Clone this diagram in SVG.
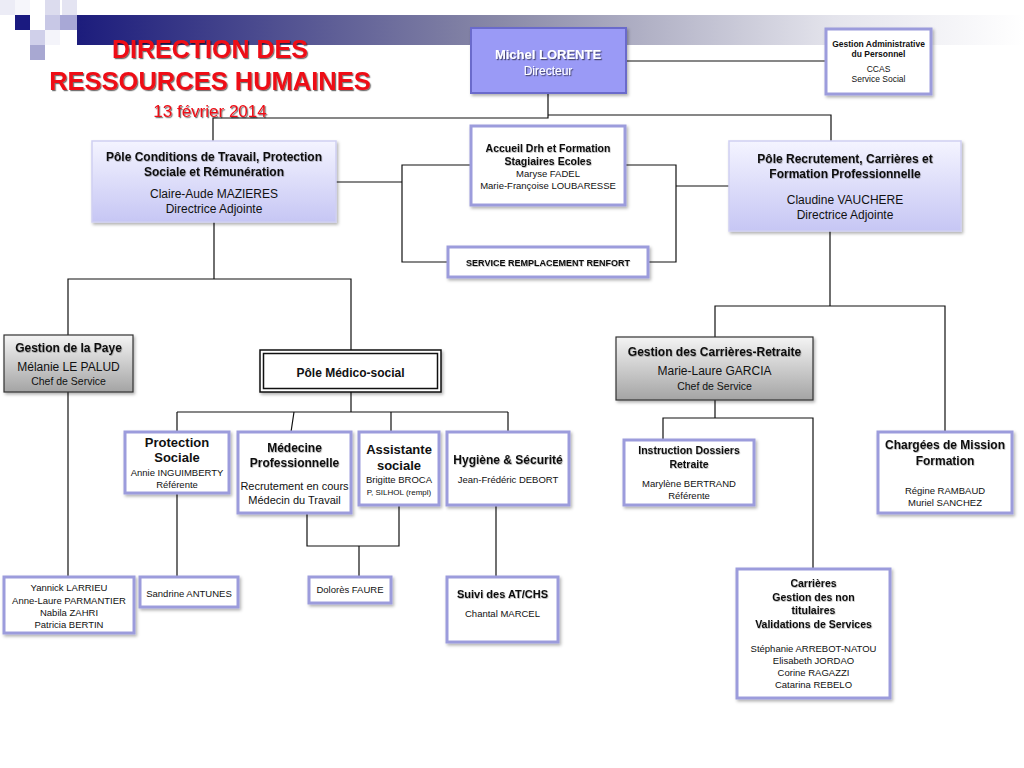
<svg xmlns="http://www.w3.org/2000/svg" width="1024" height="768" viewBox="0 0 1024 768">
<defs>
<linearGradient id="bar" x1="0" y1="0" x2="1" y2="0">
<stop offset="0" stop-color="#1c1c7c"/>
<stop offset="0.45" stop-color="#8a8aa8"/>
<stop offset="0.8" stop-color="#e4e4ec"/>
<stop offset="1" stop-color="#ffffff"/>
</linearGradient>
<linearGradient id="lav" x1="0" y1="0" x2="0" y2="1">
<stop offset="0" stop-color="#f4f4ff"/>
<stop offset="1" stop-color="#c6c6f4"/>
</linearGradient>
<linearGradient id="gray" x1="0" y1="0" x2="0" y2="1">
<stop offset="0" stop-color="#f4f4f4"/>
<stop offset="1" stop-color="#a4a4a4"/>
</linearGradient>
<filter id="sh" x="-10%" y="-10%" width="130%" height="140%">
<feDropShadow dx="1.5" dy="2" stdDeviation="1.5" flood-color="#000" flood-opacity="0.3"/>
</filter>
<filter id="tsh" x="-5%" y="-20%" width="110%" height="150%">
<feDropShadow dx="1.2" dy="1.2" stdDeviation="0.6" flood-color="#000" flood-opacity="0.55"/>
</filter>
<filter id="ssh" x="-5%" y="-20%" width="110%" height="150%">
<feDropShadow dx="0.6" dy="0.8" stdDeviation="0.5" flood-color="#000" flood-opacity="0.3"/>
</filter>
</defs>
<style>
text{font-family:"Liberation Sans",Arial,sans-serif;text-anchor:middle;fill:#111}
.b{font-weight:bold}
.box{fill:#fff;stroke:#9c9cdc;stroke-width:3}
.pole{fill:url(#lav);stroke:#cfcff2;stroke-width:1.5}
.grey{fill:url(#gray);stroke:#333;stroke-width:1.2}
.ln{fill:none;stroke:#111;stroke-width:1.2}
.title{fill:#ee1118;font-weight:bold}
</style>
<rect width="1024" height="768" fill="#fff"/>
<g id="header">
<rect x="77" y="15" width="947" height="30" fill="url(#bar)"/>
<rect x="0" y="0" width="15" height="15" fill="#ececf6"/>
<rect x="15" y="0" width="15" height="15" fill="#f6f6fb"/>
<rect x="45" y="0" width="15" height="15" fill="#dcdcee"/>
<rect x="62" y="0" width="15" height="15" fill="#e4e4f2"/>
<rect x="15" y="15" width="15" height="15" fill="#1a1a80"/>
<rect x="30" y="15" width="15" height="15" fill="#ffffff"/>
<rect x="45" y="15" width="15" height="15" fill="#c8c8e6"/>
<rect x="60" y="15" width="17" height="15" fill="#a8a8d6"/>
<rect x="30" y="30" width="15" height="15" fill="#d0d0ea"/>
<rect x="45" y="30" width="15" height="15" fill="#f4f4fa"/>
<rect x="30" y="45" width="15" height="15" fill="#a8a8d2"/>
<g filter="url(#tsh)">
<text class="title" x="210" y="58" font-size="25">DIRECTION DES</text>
<text class="title" x="210" y="90" font-size="25.5">RESSOURCES HUMAINES</text>
<text x="210" y="117" font-size="17" style="fill:#ee1118">13 février 2014</text>
</g>
</g>
<g id="connectors">
<path class="ln" d="M626 61H826"/>
<path class="ln" d="M548 93V118H213V141"/>
<path class="ln" d="M548 115H831V141"/>
<path class="ln" d="M336 182H402M471 165H402V262H448"/>
<path class="ln" d="M625 165H676V262H648M676 186H729"/>
<path class="ln" d="M214 222V279H68V335M214 279H351V350"/>
<path class="ln" d="M68 392V577"/>
<path class="ln" d="M351 392V412M177 412H508M177 412V432M294 412L291 432M391 412V432M508 412V432"/>
<path class="ln" d="M177 493V577"/>
<path class="ln" d="M307 513V546H399V505M359 546V577"/>
<path class="ln" d="M496 505V577"/>
<path class="ln" d="M830 231V306H715V337M830 306H945V432"/>
<path class="ln" d="M715 400V418H663V440M715 418H813V569"/>
</g>
<g id="directeur">
<rect x="471" y="28" width="155" height="65" fill="#9a9af6" stroke="#6a6acb" stroke-width="2" filter="url(#sh)"/>
<g filter="url(#tsh)">
<text x="548" y="59" font-size="13" class="b" style="fill:#fff">Michel LORENTE</text>
<text x="548" y="75" font-size="12" style="fill:#fff">Directeur</text>
</g>
</g>
<g id="gestion-admin">
<rect class="box" x="826" y="29" width="105" height="65" filter="url(#sh)"/>
<text class="b" x="878.5" y="47" font-size="8.5">Gestion Administrative</text>
<text class="b" x="878.5" y="57" font-size="8.5">du Personnel</text>
<text x="878.5" y="72" font-size="8.5">CCAS</text>
<text x="878.5" y="82" font-size="8.5">Service Social</text>
</g>
<g id="accueil">
<rect class="box" x="471" y="126" width="154" height="79" filter="url(#sh)"/>
<g filter="url(#ssh)">
<text class="b" x="548" y="152" font-size="10.5">Accueil Drh et Formation</text>
<text class="b" x="548" y="165" font-size="10.5">Stagiaires Ecoles</text>
</g>
<text x="548" y="177" font-size="9.5">Maryse FADEL</text>
<text x="548" y="189" font-size="9.5">Marie-Françoise LOUBARESSE</text>
</g>
<g id="service-remplacement">
<rect class="box" x="448" y="247" width="200" height="30" filter="url(#sh)"/>
<text class="b" x="548" y="266" font-size="9" filter="url(#ssh)">SERVICE REMPLACEMENT RENFORT</text>
</g>
<g id="pole-conditions">
<rect class="pole" x="92" y="141" width="244" height="81" filter="url(#sh)"/>
<g filter="url(#ssh)">
<text class="b" x="214" y="161" font-size="12">Pôle Conditions de Travail, Protection</text>
<text class="b" x="214" y="176" font-size="12">Sociale et Rémunération</text>
</g>
<text x="214" y="198" font-size="12">Claire-Aude MAZIERES</text>
<text x="214" y="213" font-size="12">Directrice Adjointe</text>
</g>
<g id="pole-recrutement">
<rect class="pole" x="729" y="141" width="232" height="90" filter="url(#sh)"/>
<g filter="url(#ssh)">
<text class="b" x="845" y="163" font-size="12">Pôle Recrutement, Carrières et</text>
<text class="b" x="845" y="178" font-size="12">Formation Professionnelle</text>
</g>
<text x="845" y="204" font-size="12">Claudine VAUCHERE</text>
<text x="845" y="219" font-size="12">Directrice Adjointe</text>
</g>
<g id="gestion-paye">
<rect class="grey" x="4" y="335" width="129" height="57" filter="url(#sh)"/>
<text class="b" x="68.5" y="352" font-size="12" filter="url(#ssh)">Gestion de la Paye</text>
<text x="68.5" y="371" font-size="12">Mélanie LE PALUD</text>
<text x="68.5" y="385" font-size="10.5">Chef de Service</text>
</g>
<g id="pole-medico-social">
<rect x="260" y="350" width="181" height="42" fill="#fff" stroke="#111" stroke-width="1.5" filter="url(#sh)"/>
<rect x="263.5" y="353.5" width="174" height="35" fill="none" stroke="#111" stroke-width="1.5"/>
<text class="b" x="350.5" y="377" font-size="12">Pôle Médico-social</text>
</g>
<g id="gestion-carrieres-retraite">
<rect class="grey" x="616" y="337" width="197" height="63" filter="url(#sh)"/>
<text class="b" x="714.5" y="356" font-size="12" filter="url(#ssh)">Gestion des Carrières-Retraite</text>
<text x="714.5" y="375" font-size="12">Marie-Laure GARCIA</text>
<text x="714.5" y="390" font-size="10.5">Chef de Service</text>
</g>
<g id="protection-sociale">
<rect class="box" x="125" y="432" width="104" height="61" filter="url(#sh)"/>
<text class="b" x="177" y="447" font-size="13">Protection</text>
<text class="b" x="177" y="462" font-size="13">Sociale</text>
<text x="177" y="476" font-size="9.5">Annie INGUIMBERTY</text>
<text x="177" y="488" font-size="9.5">Référente</text>
</g>
<g id="medecine">
<rect class="box" x="238" y="432" width="113" height="81" filter="url(#sh)"/>
<g filter="url(#ssh)">
<text class="b" x="294.5" y="452" font-size="12">Médecine</text>
<text class="b" x="294.5" y="467" font-size="12">Professionnelle</text>
</g>
<text x="294.5" y="490" font-size="11">Recrutement en cours</text>
<text x="294.5" y="504" font-size="11">Médecin du Travail</text>
</g>
<g id="assistante-sociale">
<rect class="box" x="359" y="432" width="80" height="73" filter="url(#sh)"/>
<text class="b" x="399" y="454" font-size="13">Assistante</text>
<text class="b" x="399" y="470" font-size="13">sociale</text>
<text x="399" y="483" font-size="9.5">Brigitte BROCA</text>
<text x="399" y="495" font-size="8">P, SILHOL (rempl)</text>
</g>
<g id="hygiene-securite">
<rect class="box" x="447" y="432" width="122" height="73" filter="url(#sh)"/>
<text class="b" x="508" y="464" font-size="12" filter="url(#ssh)">Hygiène &amp; Sécurité</text>
<text x="508" y="483" font-size="9.5">Jean-Frédéric DEBORT</text>
</g>
<g id="instruction-dossiers">
<rect class="box" x="624" y="440" width="130" height="65" filter="url(#sh)"/>
<g filter="url(#ssh)">
<text class="b" x="689" y="454" font-size="10.5">Instruction Dossiers</text>
<text class="b" x="689" y="468" font-size="10.5">Retraite</text>
</g>
<text x="689" y="487" font-size="9.5">Marylène BERTRAND</text>
<text x="689" y="499" font-size="9.5">Référente</text>
</g>
<g id="chargees-mission">
<rect class="box" x="878" y="432" width="134" height="81" filter="url(#sh)"/>
<g filter="url(#ssh)">
<text class="b" x="945" y="449" font-size="12">Chargées de Mission</text>
<text class="b" x="945" y="465" font-size="12">Formation</text>
</g>
<text x="945" y="494" font-size="9.5">Régine RAMBAUD</text>
<text x="945" y="506" font-size="9.5">Muriel SANCHEZ</text>
</g>
<g id="equipe-paye">
<rect class="box" x="4" y="577" width="130" height="56" filter="url(#sh)"/>
<text x="69" y="591" font-size="9.5">Yannick LARRIEU</text>
<text x="69" y="604" font-size="9.5">Anne-Laure PARMANTIER</text>
<text x="69" y="616" font-size="9.5">Nabila ZAHRI</text>
<text x="69" y="628" font-size="9.5">Patricia BERTIN</text>
</g>
<g id="sandrine">
<rect class="box" x="140" y="577" width="98" height="30" filter="url(#sh)"/>
<text x="189" y="597" font-size="9.5">Sandrine ANTUNES</text>
</g>
<g id="dolores">
<rect class="box" x="309" y="577" width="82" height="26" filter="url(#sh)"/>
<text x="350" y="593" font-size="9.5">Dolorès FAURE</text>
</g>
<g id="suivi-at-chs">
<rect class="box" x="447" y="577" width="111" height="65" filter="url(#sh)"/>
<text class="b" x="502.5" y="598" font-size="11" filter="url(#ssh)">Suivi des AT/CHS</text>
<text x="502.5" y="617" font-size="9.5">Chantal MARCEL</text>
</g>
<g id="carrieres">
<rect class="box" x="737" y="569" width="153" height="129" filter="url(#sh)"/>
<g filter="url(#ssh)">
<text class="b" x="813.5" y="587" font-size="10.5">Carrières</text>
<text class="b" x="813.5" y="601" font-size="10.5">Gestion des non</text>
<text class="b" x="813.5" y="614" font-size="10.5">titulaires</text>
<text class="b" x="813.5" y="628" font-size="10.5">Validations de Services</text>
</g>
<text x="813.5" y="652" font-size="9.5">Stéphanie ARREBOT-NATOU</text>
<text x="813.5" y="664" font-size="9.5">Elisabeth JORDAO</text>
<text x="813.5" y="676" font-size="9.5">Corine RAGAZZI</text>
<text x="813.5" y="688" font-size="9.5">Catarina REBELO</text>
</g>
</svg>
